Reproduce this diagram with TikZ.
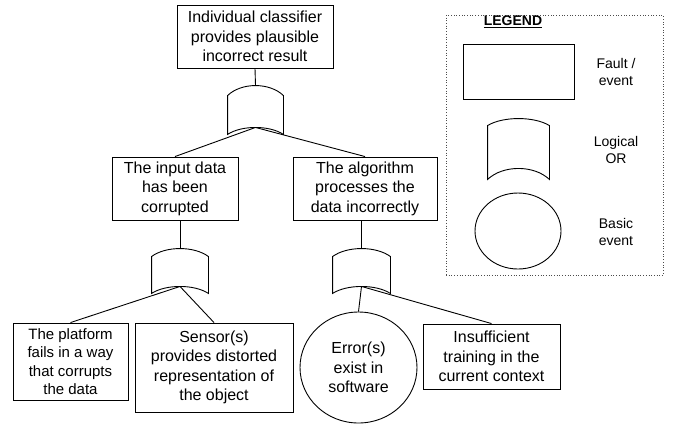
\documentclass[tikz,border=0pt]{standalone}
\usepackage{fontspec}
\setmainfont{Liberation Sans}
\usetikzlibrary{calc,shapes.geometric}
\begin{document}
\begin{tikzpicture}[x=1pt,y=-1pt,line width=0.9pt]
	\tikzstyle{block} = [rectangle,draw,align=center,inner sep=0pt,font=\fontsize{16}{19.5}\selectfont]
	\tikzstyle{gate} = [rectangle,inner sep=0pt]
	\tikzstyle{basic} = [ellipse,draw,align=center,inner sep=0pt,font=\fontsize{16}{19.5}\selectfont]
	\tikzstyle{legtext} = [align=center,font=\fontsize{14}{17}\selectfont]
	\useasboundingbox (0,0) rectangle (677,424);
	% fault tree
	\node[block,minimum width=156pt,minimum height=63pt](top)at(255,36.5){Individual classifier\\provides plausible\\incorrect result};
	\node[gate,minimum width=55pt,minimum height=41pt](g0)at(255.5,106.5){};
	\node[block,minimum width=126pt,minimum height=63pt](input)at(175,188.5){The input data\\has been\\corrupted};
	\node[block,minimum width=144pt,minimum height=63pt](alg)at(365,188.5){The algorithm\\processes the\\data incorrectly};
	\node[gate,minimum width=56pt,minimum height=37pt](g1)at(180,267.5){};
	\node[gate,minimum width=57pt,minimum height=37pt](g2)at(361.5,267.5){};
	\node[block,minimum width=115pt,minimum height=77pt,font=\fontsize{15}{18.5}\selectfont](plat)at(70.5,361.5){The platform\\fails in a way\\that corrupts\\the data};
	\node[block,minimum width=158pt,minimum height=89pt](sens)at(214,367.5){Sensor(s)\\provides distorted\\representation of\\the object};
	\node[basic,minimum width=117pt,minimum height=111pt](err)at(358.5,367.5){Error(s)\\exist in\\software};
	\node[block,minimum width=137pt,minimum height=65pt](ins)at(491.5,356.5){Insufficient\\training in the\\current context};
	% legend
	\node[rectangle,draw=black!70,dotted,line width=0.7pt,minimum width=217pt,minimum height=260pt](legend)at(554.5,145){};
	\node[legtext](leghead)at(513,22){\underline{\textbf{LEGEND}}};
	\node[rectangle,draw,minimum width=111pt,minimum height=55pt](lrect)at(518.5,71.5){};
	\node[gate,minimum width=61pt,minimum height=49pt](lg)at(518.5,143.5){};
	\node[ellipse,draw,inner sep=0pt,minimum width=86pt,minimum height=76pt](lcirc)at(518,231){};
	\node[legtext](lt1)at(616,72){Fault /\\event};
	\node[legtext](lt2)at(616,150){Logical\\OR};
	\node[legtext](lt3)at(616,232){Basic\\event};
	% OR gate outlines
	\foreach \g/\ru/\rd in {g0/10/7,g1/8/7,g2/8/7,lg/7/11}
		\draw ($(\g.north west)+(0,\ru)$) -- ($(\g.south west)+(0,\rd)$)
		.. controls ($(\g.south west)!0.25!(\g.south east)-(0,\rd/3)$)
		and ($(\g.south west)!0.75!(\g.south east)-(0,\rd/3)$) .. ($(\g.south east)+(0,\rd)$)
		-- ($(\g.north east)+(0,\ru)$)
		.. controls ($(\g.north west)!0.75!(\g.north east)-(0,\ru/3)$)
		and ($(\g.north west)!0.25!(\g.north east)-(0,\ru/3)$) .. cycle;
	% connectors
	\path (top.south) edge (g0.north)
	(g0.south) edge (input.north)
	(g0.south) edge (alg.north);
	\path (g1.north) edge (g1.north |- input.south)
	(g2.north) edge (g2.north |- alg.south);
	\path (g1.south) edge (plat.north)
	(g1.south) edge (sens.north)
	(g2.south) edge (err.north)
	(g2.south) edge (ins.north);
\end{tikzpicture}
\end{document}
